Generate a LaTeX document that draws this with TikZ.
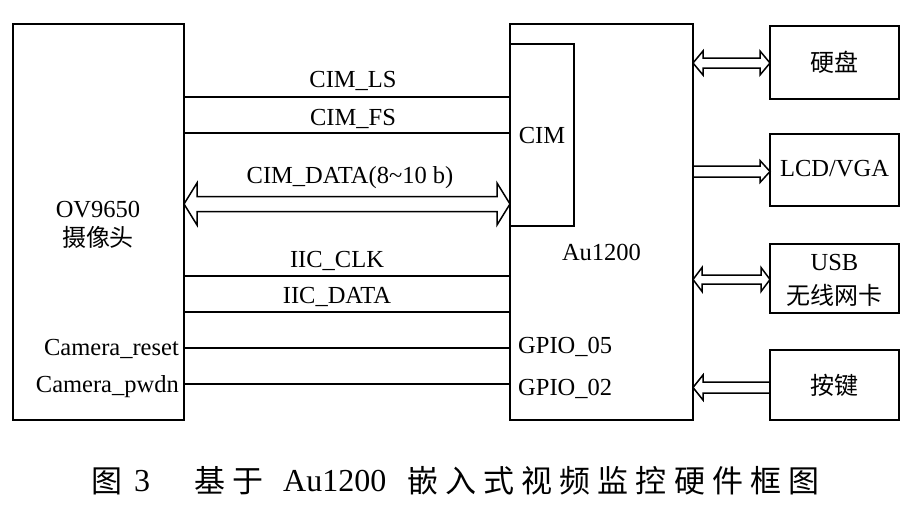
\documentclass[tikz,border=0pt]{standalone}
\usepackage{fontspec}
\setmainfont{Liberation Serif}
\newfontfamily\cjk{Noto Sans CJK SC}
\newfontfamily\cjkcap[LetterSpace=23]{Noto Sans CJK SC}
\usetikzlibrary{calc}
\tikzset{
 box/.style={draw, line width=1.6pt, inner sep=0pt, outer sep=0pt, anchor=north west},
 sig/.style={line width=1.5pt},
 hollow/.style={line width=1.5pt, line join=miter},
 lbl/.style={inner sep=0pt, anchor=base, font=\fontsize{24.5}{28}\selectfont},
 zh/.style={inner sep=0pt, font=\fontsize{24}{30}\selectfont\cjk},
 captxt/.style={inner sep=0pt, anchor=west},
}
% hollow double-headed block arrow from #1 to #2; shaft half #3, head half #4, head length #5
\newcommand\hdbl[5]{%
 \draw[hollow] let \p1=(#1), \p2=(#2), \n1={sign(\x2-\x1)*#5} in
 (\x1,\y1) -- ({\x1+\n1*1pt},{\y1+#4pt}) -- ({\x1+\n1*1pt},{\y1+#3pt}) -- ({\x2-\n1*1pt},{\y1+#3pt})
 -- ({\x2-\n1*1pt},{\y1+#4pt}) -- (\x2,\y1) -- ({\x2-\n1*1pt},{\y1-#4pt}) -- ({\x2-\n1*1pt},{\y1-#3pt})
 -- ({\x1+\n1*1pt},{\y1-#3pt}) -- ({\x1+\n1*1pt},{\y1-#4pt}) -- cycle;}
% hollow single-headed block arrow, tail #1, tip #2
\newcommand\hsgl[5]{%
 \draw[hollow] let \p1=(#1), \p2=(#2), \n1={sign(\x2-\x1)*#5} in
 (\x1,{\y1+#3pt}) -- ({\x2-\n1*1pt},{\y1+#3pt}) -- ({\x2-\n1*1pt},{\y1+#4pt}) -- (\x2,\y1)
 -- ({\x2-\n1*1pt},{\y1-#4pt}) -- ({\x2-\n1*1pt},{\y1-#3pt}) -- (\x1,{\y1-#3pt});}
\begin{document}
\begin{tikzpicture}[x=1pt,y=-1pt]
\useasboundingbox (0,0) rectangle (914,509);
\fill[white] (0,0) rectangle (914,509);

% boxes
\node[box, minimum width=171pt, minimum height=396pt] (ov) at (13,24) {};
\node[box, minimum width=183pt, minimum height=396pt] (au) at (510,24) {};
\node[box, minimum width=64pt, minimum height=182pt] (cim) at (510,44) {};
\node[box, minimum width=129pt, minimum height=73pt] (hd) at (770,26) {};
\node[box, minimum width=129pt, minimum height=72pt] (lcd) at (770,134) {};
\node[box, minimum width=129pt, minimum height=69pt] (usb) at (770,244) {};
\node[box, minimum width=129pt, minimum height=70pt] (key) at (770,350) {};

% box texts
\node[lbl] (ovt) at ($(ov.north west)+(85,193)$) {OV9650};
\node[zh] (ovz) at ($(ov.north west)+(85,213)$) {摄像头};
\node[lbl, anchor=base east] (crt) at ($(ov.north east)+(-5,331)$) {Camera\_reset};
\node[lbl, anchor=base east] (cpt) at ($(ov.north east)+(-5,368)$) {Camera\_pwdn};
\node[lbl] (cimt) at ($(cim.north)+(0,99)$) {CIM};
\node[lbl] (aut) at ($(au.north)+(0,236)$) {Au1200};
\node[lbl, anchor=base west] (g5) at ($(au.north west)+(8,329)$) {GPIO\_05};
\node[lbl, anchor=base west] (g2) at ($(au.north west)+(8,371)$) {GPIO\_02};
\node[zh] (hdt) at (hd.center) {硬盘};
\node[lbl, anchor=center] (lcdt) at ($(lcd.center)+(0,-1)$) {LCD/VGA};
\node[lbl] (usbt) at ($(usb.north)+(0,26)$) {USB};
\node[zh] (usbz) at ($(usb.north)+(0,51)$) {无线网卡};
\node[zh] (keyt) at (key.center) {按键};

% signal lines
\coordinate (l1) at ($(ov.north east)+(0,73)$);
\coordinate (l2) at ($(ov.north east)+(0,109)$);
\coordinate (l3) at ($(ov.north east)+(0,252)$);
\coordinate (l4) at ($(ov.north east)+(0,288)$);
\coordinate (l5) at ($(ov.north east)+(0,324)$);
\coordinate (l6) at ($(ov.north east)+(0,360)$);
\draw[sig] (l1) -- (l1 -| au.west) node[lbl, pos=0.5, xshift=6pt, yshift=10pt] {CIM\_LS};
\draw[sig] (l2) -- (l2 -| au.west) node[lbl, pos=0.5, xshift=6pt, yshift=8pt] {CIM\_FS};
\draw[sig] (l3) -- (l3 -| au.west) node[lbl, pos=0.5, xshift=-10pt, yshift=9pt] {IIC\_CLK};
\draw[sig] (l4) -- (l4 -| au.west) node[lbl, pos=0.5, xshift=-10pt, yshift=9pt] {IIC\_DATA};
\draw[sig] (l5) -- (l5 -| au.west);
\draw[sig] (l6) -- (l6 -| au.west);

% CIM data bus
\coordinate (d1) at ($(ov.north east)+(0,180)$);
\coordinate (d2) at (d1 -| au.west);
\hdbl{d1}{d2}{7.5}{21}{13}
\node[lbl] (cdt) at ($(d1)!0.5!(d2)+(3,-21)$) {CIM\_DATA(8\textasciitilde10 b)};

% right side block arrows
\coordinate (h1) at ($(au.north east)+(0,39)$);
\coordinate (h2) at (h1 -| hd.west);
\hdbl{h1}{h2}{5}{12}{10}
\coordinate (c1) at ($(au.north east)+(0,147.5)$);
\coordinate (c2) at (c1 -| lcd.west);
\hsgl{c1}{c2}{5.5}{11}{10}
\coordinate (u1) at ($(au.north east)+(0,255.5)$);
\coordinate (u2) at (u1 -| usb.west);
\hdbl{u1}{u2}{4.5}{12}{9}
\coordinate (k2) at ($(au.north east)+(0,363.5)$);
\coordinate (k1) at (k2 -| key.west);
\hsgl{k1}{k2}{5.5}{12.5}{10}

% caption
\node[captxt, font=\fontsize{31}{36}\selectfont\cjkcap] (c1t) at (91,481) {图};
\node[captxt, font=\fontsize{32}{36}\selectfont] (c2t) at (134,481) {3};
\node[captxt, font=\fontsize{31}{36}\selectfont\cjkcap] (c3t) at (194,481) {基于};
\node[captxt, font=\fontsize{32}{36}\selectfont] (c4t) at (283,481) {Au1200};
\node[captxt, font=\fontsize{31}{36}\selectfont\cjkcap] (c5t) at (407,481) {嵌入式视频监控硬件框图};
\end{tikzpicture}
\end{document}
